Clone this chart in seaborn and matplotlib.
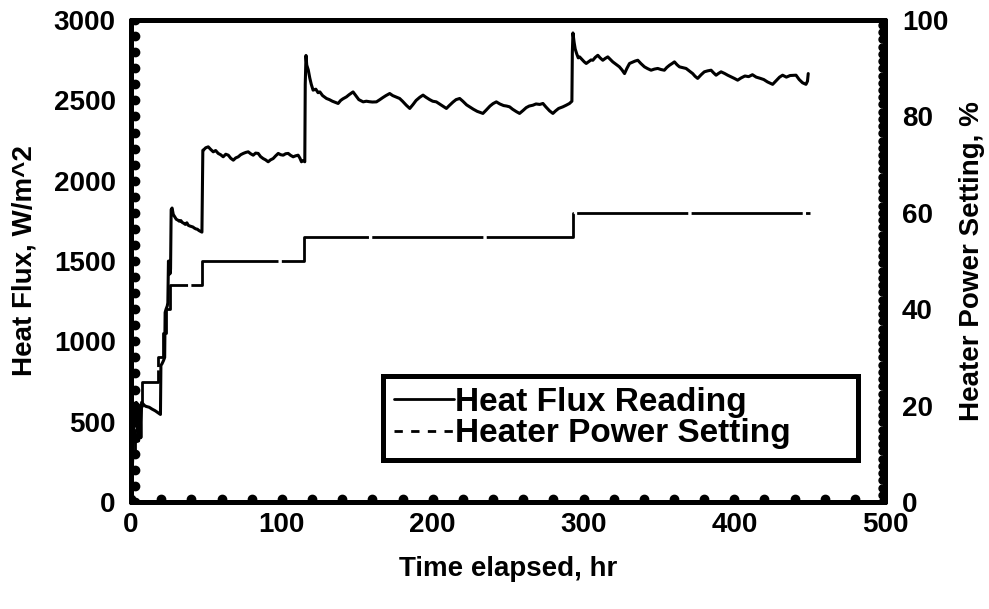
import numpy as np
import pandas as pd
import matplotlib
matplotlib.use("Agg")
import matplotlib.pyplot as plt
import matplotlib.transforms as mtransforms
from matplotlib.lines import Line2D
import seaborn as sns

# heat flux reading, W/m^2
flux_t = [0, 0.5, 1, 1.5, 2, 2.5, 3, 3.5, 4, 4.5, 5, 5.5, 6, 6.5, 7, 8, 9, 10, 12, 14, 16, 18, 19.5,
          19.8, 20.5, 21.5, 22.3, 22.6, 23.2, 24, 24.4, 24.8, 25.3, 25.8, 26.2, 26.6, 27.2, 28, 29, 30,
          31, 32, 33, 34, 35, 36, 37, 38, 39, 40, 41, 42, 43, 44, 45, 46, 47,
          47.6, 47.9, 49.5, 51.2, 52.8, 54.5, 56.1, 57.8, 59.4, 61.1, 62.8, 64.5, 66.1, 67.8, 69.4, 71.1,
          72.7, 74.4, 76, 77.7, 79.3, 81, 82.6, 84.3, 85.9, 87.6, 89.2, 90.9, 92.5, 94.2, 95.9, 97.6,
          99.2, 100.9, 102.5, 104.2, 105.8, 107.5, 109.1, 110.8, 112, 113, 114, 115.2,
          115.5, 116, 116.5, 117.5, 118.5, 119.5, 120.7, 122.5, 124, 125.2, 127, 128.5, 129.6, 131.5,
          133.5, 135.5, 137.3, 139, 140.5, 142.8, 144.5, 146, 147.2, 149, 151, 153.9, 156, 158, 160,
          162.7, 165, 167, 169, 171.5, 173.5, 176, 178.1, 180, 182.5, 184.8, 187, 189, 191.5, 193.6,
          195.5, 198, 200, 202.4, 204.5, 207, 209.1, 211, 213.5, 215.5, 217.9, 220, 222.5, 224.5, 227,
          229.5, 231.5, 233.3, 235.5, 238, 240, 242.2, 244.5, 247, 249, 251, 253, 255.5, 257.6, 260,
          262, 264, 266.4, 268.5, 271, 273.1, 275, 277.5, 279.7, 281.5, 283.5, 286.3, 288.5, 290.7,
          291.8, 292.3,
          292.6, 293, 293.8, 294.5, 295.5, 296.5, 297.4, 299, 300.5, 301.8, 303.5, 305, 306.2, 307.8,
          309.5, 311, 312.8, 314.5, 316.1, 317.8, 319.4, 321.5, 323.8, 325.5, 327.2, 328.8, 330.5,
          332.5, 334.2, 336, 338, 340.4, 342.5, 344.8, 347, 349.2, 351.5, 353.6, 355.2, 357, 358.8,
          360.3, 362, 363.6, 365.8, 368, 370.2, 372.4, 374, 375.7, 378, 380.1, 382.3, 384.6, 386.2,
          387.9, 389.5, 391.2, 393.5, 395.6, 397.8, 400, 402.2, 404.5, 407, 409.5, 412, 414.5, 417,
          419.5, 422, 425.4, 428, 430, 432, 434.5, 437, 440.9, 443, 445.2, 447.5, 448.5, 449]
flux_val = [0, 120, 250, 380, 500, 600, 560, 620, 480, 420, 380, 520, 600, 400, 620, 610, 600, 595,
            590, 578, 568, 555, 545,
            850, 860, 880, 900, 1180, 1200, 1220, 1240, 1500, 1470, 1420, 1450, 1820, 1830, 1790,
            1775, 1760, 1755, 1748, 1752, 1740, 1735, 1728, 1738, 1722, 1718, 1715, 1712, 1705, 1700,
            1698, 1690, 1685, 1680,
            2190, 2190, 2205, 2211, 2195, 2180, 2188, 2170, 2162, 2149, 2165, 2159, 2140, 2128, 2142,
            2149, 2162, 2170, 2176, 2180, 2168, 2159, 2172, 2170, 2150, 2138, 2130, 2118, 2130, 2138,
            2155, 2170, 2162, 2159, 2168, 2170, 2158, 2149, 2155, 2159, 2140, 2118, 2125, 2118,
            2600, 2780, 2720, 2690, 2640, 2600, 2564, 2570, 2548, 2553, 2530, 2520, 2512, 2505, 2495,
            2488, 2481, 2500, 2510, 2522, 2535, 2545, 2553, 2530, 2505, 2491, 2495, 2492, 2490, 2491,
            2505, 2518, 2530, 2543, 2530, 2520, 2512, 2495, 2470, 2450, 2475, 2500, 2520, 2533, 2520,
            2505, 2495, 2491, 2478, 2462, 2450, 2468, 2490, 2505, 2512, 2495, 2472, 2460, 2445, 2432,
            2425, 2419, 2440, 2465, 2480, 2491, 2478, 2468, 2465, 2460, 2445, 2430, 2419, 2438, 2455,
            2465, 2470, 2478, 2475, 2481, 2460, 2435, 2419, 2435, 2450, 2460, 2470, 2481, 2491, 2495,
            2800, 2920, 2860, 2820, 2790, 2765, 2771, 2755, 2740, 2730, 2742, 2752, 2750, 2768, 2781,
            2765, 2750, 2762, 2771, 2755, 2740, 2725, 2709, 2690, 2667, 2700, 2730, 2738, 2745, 2750,
            2730, 2709, 2698, 2688, 2695, 2699, 2692, 2688, 2705, 2719, 2730, 2740, 2722, 2709, 2704,
            2699, 2683, 2667, 2650, 2637, 2660, 2678, 2684, 2688, 2672, 2657, 2668, 2678, 2668, 2657,
            2647, 2637, 2626, 2640, 2652, 2648, 2660, 2645, 2638, 2630, 2615, 2600, 2625, 2645, 2657,
            2645, 2655, 2657, 2630, 2610, 2600, 2620, 2667]

# heater power setting, % (steps)
power_t = [0, 2.5, 5, 7, 18, 21, 23, 26, 47, 115, 293, 450]
power_val = [10, 15, 20, 25, 30, 35, 40, 45, 50, 55, 60, 60]

x_ticks = [0, 100, 200, 300, 400, 500]
left_ticks = [0, 500, 1000, 1500, 2000, 2500, 3000]
right_ticks = [0, 20, 40, 60, 80, 100]

flux_df = pd.DataFrame({"Time": flux_t, "Flux": flux_val})
power_df = pd.DataFrame({"Time": power_t, "Power": power_val})

sns.set_theme(style="white")
plt.rcParams["font.family"] = ["Liberation Sans", "DejaVu Sans"]
plt.rcParams["font.weight"] = "bold"
plt.rcParams["text.color"] = "black"
plt.rcParams["axes.labelcolor"] = "black"
plt.rcParams["xtick.color"] = "black"
plt.rcParams["ytick.color"] = "black"

fig = plt.figure(figsize=(9.89, 6.09), dpi=100)
ax = fig.add_axes([0.1325, 0.1757, 0.7625, 0.7913])
ax2 = ax.twinx()

sns.lineplot(data=flux_df, x="Time", y="Flux", ax=ax, color="black", linewidth=2.2,
             estimator=None, sort=False)
sns.lineplot(data=power_df, x="Time", y="Power", ax=ax2, color="black", linewidth=2.0,
             estimator=None, sort=False, drawstyle="steps-post")
ax2.lines[0].set_dashes((40, 1.2))

ax.set_xlim(0, 500)
ax.set_ylim(0, 3000)
ax2.set_ylim(0, 100)
ax.set_xticks(x_ticks)
ax.set_yticks(left_ticks)
ax2.set_yticks(right_ticks)
ax.tick_params(axis="x", length=0, labelsize=20, pad=7)
ax.tick_params(axis="y", length=0, labelsize=20, pad=11)
ax2.tick_params(length=0, labelsize=20, pad=12)
for lab in ax.get_xticklabels() + ax.get_yticklabels() + ax2.get_yticklabels():
    lab.set_fontweight("bold")

ax.set_xlabel("Time elapsed, hr", fontsize=20, fontweight="bold", labelpad=13)
ax.set_ylabel("Heat Flux, W/m^2", fontsize=20, fontweight="bold", labelpad=12)
ax2.set_ylabel("Heater Power Setting, %", fontsize=20, fontweight="bold", labelpad=8)

for a in (ax, ax2):
    for sp in a.spines.values():
        sp.set_linewidth(3.6)
        sp.set_color("black")
        sp.set_capstyle("round")

# round inward minor-tick dots, clipped to the plot frame
up = mtransforms.ScaledTranslation(0, 2.5 / 72, fig.dpi_scale_trans)
rt = mtransforms.ScaledTranslation(2.5 / 72, 0, fig.dpi_scale_trans)
lf = mtransforms.ScaledTranslation(-2.5 / 72, 0, fig.dpi_scale_trans)
xd = np.arange(0, 501, 20)
ax.plot(xd, np.zeros_like(xd), transform=ax.get_xaxis_transform() + up, ls="none", marker="o",
        ms=6, color="black", clip_on=True)
yd = np.arange(0, 3001, 100)
ax.plot(np.zeros_like(yd), yd, transform=ax.get_yaxis_transform() + rt, ls="none", marker="o",
        ms=6, color="black", clip_on=True)
rd = np.arange(0, 100.1, 1.5)
ax2.plot(np.ones_like(rd), rd, transform=ax2.get_yaxis_transform() + lf, ls="none", marker="o",
         ms=5, color="black", clip_on=True)

handles = [Line2D([], [], color="black", lw=2.0),
           Line2D([], [], color="black", lw=2.0, dashes=(3, 3))]
leg = ax.legend(handles, ["Heat Flux Reading", "Heater Power Setting"],
                loc="lower left", bbox_to_anchor=(0.334, 0.087, 0.630, 0.174), mode="expand",
                frameon=True, fancybox=False, edgecolor="black", framealpha=1,
                prop={"size": 24, "weight": "bold"}, handlelength=1.8, handletextpad=0.05,
                borderpad=0.32, labelspacing=0.02, borderaxespad=0)
leg.get_frame().set_linewidth(3.6)
leg.set_zorder(5)
ax.set_zorder(ax2.get_zorder() + 1)
ax.patch.set_visible(False)

fig.savefig("out.png", dpi=100)
